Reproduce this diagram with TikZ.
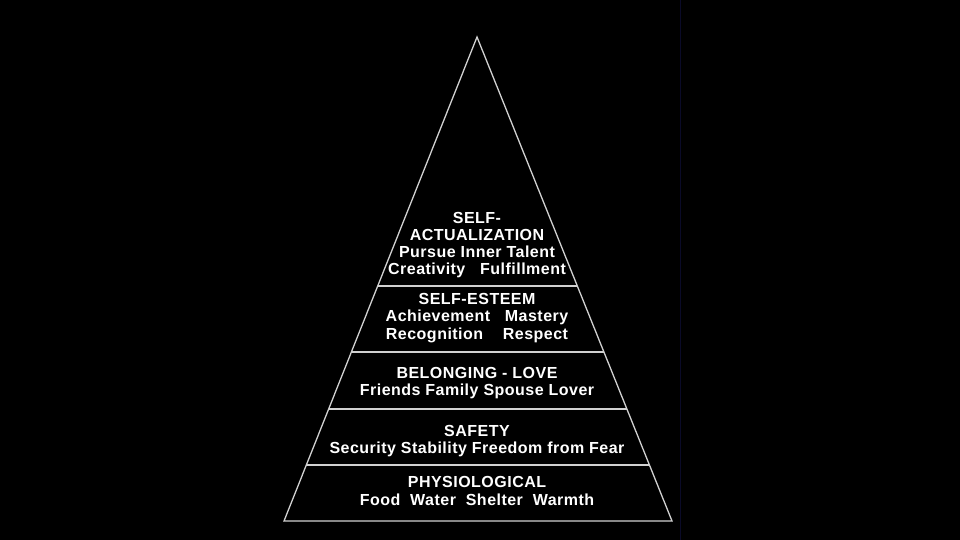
\documentclass[tikz,border=0pt]{standalone}
\usepackage{fontspec}
\setmainfont{Liberation Sans}
\newfontfamily\tierfont[LetterSpace=3]{Liberation Sans}
\usetikzlibrary{calc}
\tikzset{
  edge/.style={draw=white!82!black, line width=1.3pt},
  tier/.style={text=white, font=\tierfont\fontsize{16}{17.2}\selectfont\bfseries, align=center, inner sep=0pt}
}
\begin{document}
\begin{tikzpicture}[x=1pt,y=-1pt]
\fill[black] (0,0) rectangle (960,540);
\useasboundingbox (0,0) rectangle (960,540);
\draw[draw={rgb,255:red,10;green,10;blue,40}, line width=1pt] (680,0) -- (680,540);
\coordinate (A) at (477,37);
\coordinate (BL) at (284,521);
\coordinate (BR) at (672,521);
\draw[edge, line join=miter] (A) -- (BL) -- (BR) -- cycle;
\foreach \t/\n in {0.5145/a,0.6508/b,0.7686/c,0.8843/d}{
  \coordinate (L\n) at ($(A)!\t!(BL)$);
  \coordinate (R\n) at ($(A)!\t!(BR)$);
  \draw[edge] (L\n) -- (R\n);
}
\node[tier] (t1) at (477,245) {SELF-\\ACTUALIZATION\\Pursue Inner Talent\\Creativity\ \ \ Fulfillment};
\node[tier] (t2) at (477,318) {SELF-ESTEEM\\Achievement\ \ \ Mastery\\Recognition\ \ \ \ Respect};
\node[tier] (t3) at (477,383) {BELONGING - LOVE\\Friends Family Spouse Lover};
\node[tier] (t4) at (477,441) {SAFETY\\Security Stability Freedom from Fear};
\node[tier] (t5) at (477,491) {PHYSIOLOGICAL\\Food\ \ Water\ \ Shelter\ \ Warmth};
\end{tikzpicture}
\end{document}
